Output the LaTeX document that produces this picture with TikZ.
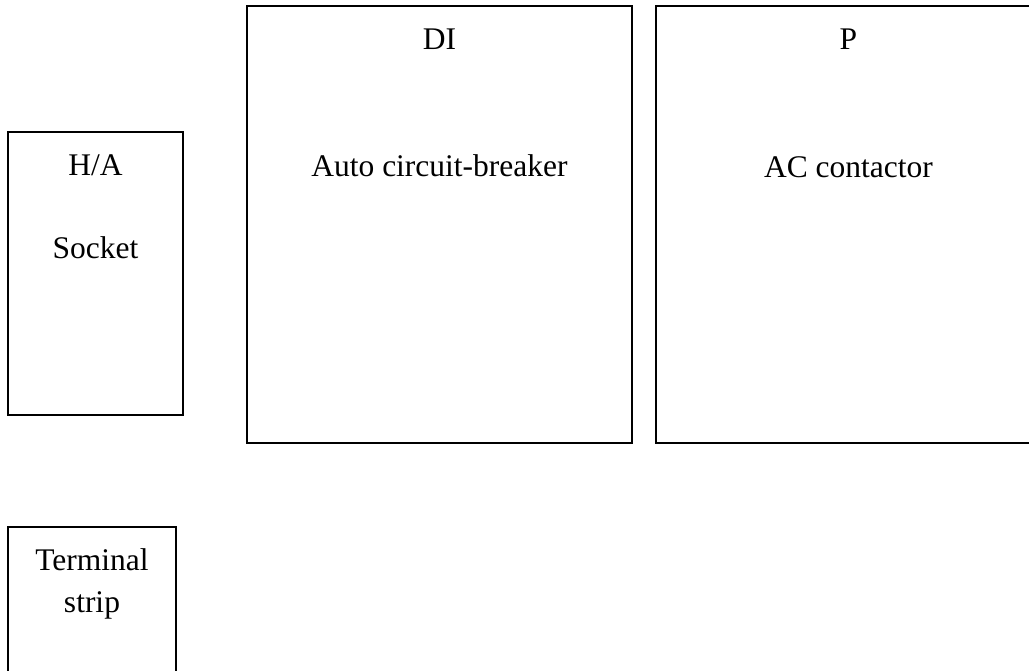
\documentclass[tikz,border=0pt]{standalone}
\usepackage{fontspec}
\setmainfont{Liberation Serif}
\begin{document}
\begin{tikzpicture}[x=0.5pt,y=-0.5pt,
  boxline/.style={draw=black,line width=1pt},
  lbl/.style={anchor=base,inner sep=0pt,font=\fontsize{15.75}{19}\selectfont}]
\useasboundingbox (0,0) rectangle (1029,670);
\clip (0,0) rectangle (1029,670);
% boxes
\coordinate (haA) at (8,132);   \coordinate (haB) at (183,415);
\coordinate (diA) at (247,6);   \coordinate (diB) at (632,443);
\coordinate (pA) at (656,6);    \coordinate (pB) at (1041,443);
\coordinate (tsA) at (8,700);   \coordinate (tsB) at (8,527);
\coordinate (tsC) at (176,527); \coordinate (tsD) at (176,700);
\draw[boxline] (haA) rectangle (haB);
\draw[boxline] (diA) rectangle (diB);
\draw[boxline] (pA) rectangle (pB);
\draw[boxline] (tsA) -- (tsB) -- (tsC) -- (tsD);
% labels
\node[lbl] (tDI) at (439.5,49) {DI};
\node[lbl] (tP) at (848.5,49) {P};
\node[lbl] (tACB) at (439.5,176) {Auto circuit-breaker};
\node[lbl] (tACC) at (848.5,177) {AC contactor};
\node[lbl] (tHA) at (95.5,175) {H/A};
\node[lbl] (tSo) at (95.5,258) {Socket};
\node[lbl] (tTe) at (92,570) {Terminal};
\node[lbl] (tSt) at (92,612) {strip};
\end{tikzpicture}
\end{document}
